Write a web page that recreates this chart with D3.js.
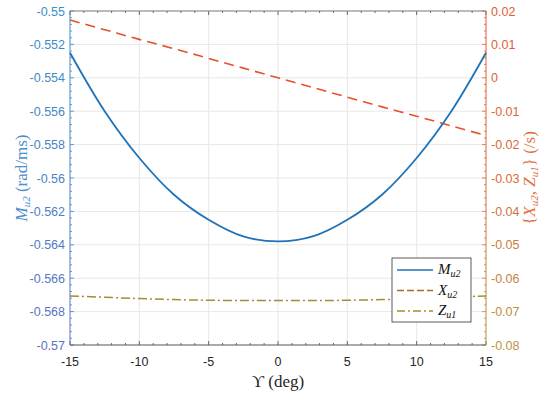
<!DOCTYPE html>
<html>
<head>
<meta charset="utf-8">
<script src="https://cdn.jsdelivr.net/npm/d3@7"></script>
<style>
  body { margin: 0; background: #fff; }
</style>
</head>
<body>
<div id="chart"></div>
<script>
// values
var angle = [-15, -12.5, -10, -7.5, -5, -2.5, 0, 2.5, 5, 7.5, 10, 12.5, 15]
var mu2 = [-0.5525, -0.5560, -0.5588, -0.5610, -0.5625, -0.5635, -0.5638,
           -0.5635, -0.5625, -0.5610, -0.5588, -0.5560, -0.5525]
var xu2 = [0.0173, 0.0144, 0.0115, 0.0087, 0.0058, 0.0029, 0,
           -0.0029, -0.0058, -0.0087, -0.0115, -0.0144, -0.0173]
var zu1 = [-0.0653, -0.0657, -0.0661, -0.0664, -0.0666, -0.0667, -0.0667,
           -0.0667, -0.0666, -0.0664, -0.0661, -0.0657, -0.0653]
var xTicks = [-15, -10, -5, 0, 5, 10, 15]
var leftTicks = [-0.57, -0.568, -0.566, -0.564, -0.562, -0.56, -0.558, -0.556, -0.554, -0.552, -0.55]
var rightTicks = [-0.08, -0.07, -0.06, -0.05, -0.04, -0.03, -0.02, -0.01, 0, 0.01, 0.02]

var SANS = "'Liberation Sans', Arial, sans-serif";
var SERIF = "'Liberation Serif', 'DejaVu Serif', serif";

var margin = { top: 11, right: 64, bottom: 48, left: 70 };
var W = 550, H = 393;
var width = W - margin.left - margin.right;
var height = H - margin.top - margin.bottom;

var svg = d3.select("#chart").append("svg")
  .attr("width", W).attr("height", H);
var g = svg.append("g")
  .attr("transform", "translate(" + margin.left + "," + margin.top + ")");

var x = d3.scaleLinear().domain([-15, 15]).range([0, width]);
var yL = d3.scaleLinear().domain([-0.57, -0.55]).range([height, 0]);
var yR = d3.scaleLinear().domain([-0.08, 0.02]).range([height, 0]);

// label colours drift from top to bottom in the picture
var leftCol = d3.scaleLinear().domain([0, height]).range(["#3a90c6", "#5c72c2"]);
var rightCol = d3.scaleLinear().domain([0, height * 0.45, height]).range(["#e45a34", "#d8683a", "#b5943c"]);

// grid
g.selectAll(".gx").data(xTicks.slice(1, -1)).enter().append("line")
  .attr("x1", d => x(d)).attr("x2", d => x(d))
  .attr("y1", 0).attr("y2", height)
  .attr("stroke", "#e8e8e8");
g.selectAll(".gy").data(leftTicks.slice(1, -1)).enter().append("line")
  .attr("x1", 0).attr("x2", width)
  .attr("y1", d => yL(d)).attr("y2", d => yL(d))
  .attr("stroke", "#e8e8e8");

// minor ticks
var xMinor = d3.range(-15, 15.01, 1);
var lMinor = d3.range(0, 51).map(i => -0.57 + i * 0.0004);
var rMinor = d3.range(0, 51).map(i => -0.08 + i * 0.002);

function xAxis(gg, y0, dir) {
  gg.selectAll(null).data(xMinor).enter().append("line")
    .attr("x1", d => x(d)).attr("x2", d => x(d))
    .attr("y1", y0).attr("y2", d => y0 + dir * (xTicks.indexOf(d) >= 0 ? 4 : 2))
    .attr("stroke", "#444").attr("stroke-width", 0.8);
}
xAxis(g, height, -1);
xAxis(g, 0, 1);

g.selectAll(".lm").data(lMinor).enter().append("line")
  .attr("x1", 0).attr("x2", (d, i) => i % 5 == 0 ? 4 : 2)
  .attr("y1", d => yL(d)).attr("y2", d => yL(d))
  .attr("stroke", d => leftCol(yL(d))).attr("stroke-width", 0.8);
g.selectAll(".rm").data(rMinor).enter().append("line")
  .attr("x1", width).attr("x2", (d, i) => width - (i % 5 == 0 ? 4 : 2))
  .attr("y1", d => yR(d)).attr("y2", d => yR(d))
  .attr("stroke", d => rightCol(yR(d))).attr("stroke-width", 0.8);

// axis lines
g.append("line").attr("x1", 0).attr("x2", width).attr("y1", height).attr("y2", height)
  .attr("stroke", "#555");
g.append("line").attr("x1", 0).attr("x2", width).attr("y1", 0).attr("y2", 0)
  .attr("stroke", "#777");
var defs = svg.append("defs");
var lg = defs.append("linearGradient").attr("id", "lgrad")
  .attr("x1", 0).attr("y1", 0).attr("x2", 0).attr("y2", 1);
lg.append("stop").attr("offset", "0%").attr("stop-color", "#3a90c6");
lg.append("stop").attr("offset", "100%").attr("stop-color", "#5c72c2");
var rg = defs.append("linearGradient").attr("id", "rgrad")
  .attr("x1", 0).attr("y1", 0).attr("x2", 0).attr("y2", 1);
rg.append("stop").attr("offset", "0%").attr("stop-color", "#e45a34");
rg.append("stop").attr("offset", "45%").attr("stop-color", "#d8683a");
rg.append("stop").attr("offset", "100%").attr("stop-color", "#b5943c");
g.append("rect").attr("x", -0.5).attr("y", 0).attr("width", 1).attr("height", height)
  .attr("fill", "url(#lgrad)");
g.append("rect").attr("x", width - 0.5).attr("y", 0).attr("width", 1).attr("height", height)
  .attr("fill", "url(#rgrad)");

// tick labels
g.selectAll(".xl").data(xTicks).enter().append("text")
  .attr("x", d => x(d)).attr("y", height + 21)
  .attr("text-anchor", "middle").attr("font-size", 12.5).attr("fill", "#262626")
  .style("font-family", SANS)
  .text(d => d);
g.selectAll(".ll").data(leftTicks).enter().append("text")
  .attr("x", -5).attr("y", d => yL(d) + 4.5)
  .attr("text-anchor", "end").attr("font-size", 12.5)
  .style("font-family", SANS)
  .attr("fill", d => leftCol(yL(d)))
  .text(d => +d.toFixed(3));
g.selectAll(".rl").data(rightTicks).enter().append("text")
  .attr("x", width + 5).attr("y", d => yR(d) + 4.5)
  .attr("text-anchor", "start").attr("font-size", 12.5)
  .style("font-family", SANS)
  .attr("fill", d => rightCol(yR(d)))
  .text(d => +d.toFixed(2));

// lines
var line = function (ys, sc) {
  return d3.line().x((d, i) => x(angle[i])).y(d => sc(d)).curve(d3.curveCatmullRom)(ys);
};
g.append("path").attr("d", line(zu1, yR)).attr("fill", "none")
  .attr("stroke", "#a58c30").attr("stroke-width", 1.5).attr("stroke-dasharray", "9,3,2,3");
g.append("path").attr("d", line(xu2, yR)).attr("fill", "none")
  .attr("stroke", "#e5512a").attr("stroke-width", 1.6).attr("stroke-dasharray", "10,6");
g.append("path").attr("d", line(mu2, yL)).attr("fill", "none")
  .attr("stroke", "#1f72b8").attr("stroke-width", 1.8);

// axis titles
svg.append("text")
  .attr("x", margin.left + width / 2).attr("y", H - 6)
  .attr("text-anchor", "middle").attr("font-size", 17).attr("fill", "#262626")
  .style("font-family", SERIF)
  .text("\u03D2 (deg)");

var lt = svg.append("text")
  .attr("transform", "translate(27," + (margin.top + height / 2) + ") rotate(-90)")
  .attr("text-anchor", "middle").attr("font-size", 17).attr("fill", "#4e8fcb")
  .style("font-family", SERIF);
lt.append("tspan").attr("font-style", "italic").text("M");
lt.append("tspan").attr("font-style", "italic").attr("font-size", 11).attr("dy", 3).text("u2");
lt.append("tspan").attr("dy", -3).text(" (rad/ms)");

var rt = svg.append("text")
  .attr("transform", "translate(535," + (margin.top + height / 2) + ") rotate(-90)")
  .attr("text-anchor", "middle").attr("font-size", 17).attr("fill", "#e0713e")
  .style("font-family", SERIF);
rt.append("tspan").text("{");
rt.append("tspan").attr("font-style", "italic").text("X");
rt.append("tspan").attr("font-style", "italic").attr("font-size", 11).attr("dy", 3).text("u2");
rt.append("tspan").attr("dy", -3).text(", ");
rt.append("tspan").attr("font-style", "italic").text("Z");
rt.append("tspan").attr("font-style", "italic").attr("font-size", 11).attr("dy", 3).text("u1");
rt.append("tspan").attr("dy", -3).text("} (/s)");

// legend
var legendNames = [["M", "u2"], ["X", "u2"], ["Z", "u1"]];
var legendStroke = ["#1f72b8", "#b06a22", "#a58c30"];
var legendDash = [null, "7,3", "8,3,2,3"];
var lx = 392, ly = 258;
var leg = svg.append("g").attr("transform", "translate(" + lx + "," + ly + ")");
leg.append("rect").attr("width", 79).attr("height", 64)
  .attr("fill", "#fff").attr("stroke", "#333").attr("stroke-width", 0.8);
legendNames.forEach(function (n, i) {
  var yy = 12 + i * 20.5;
  leg.append("line").attr("x1", 5).attr("x2", 41).attr("y1", yy).attr("y2", yy)
    .attr("stroke", legendStroke[i]).attr("stroke-width", 1.5)
    .attr("stroke-dasharray", legendDash[i]);
  var t = leg.append("text").attr("x", 46).attr("y", yy + 4)
    .attr("font-size", 15).attr("fill", "#111")
    .style("font-family", SERIF);
  t.append("tspan").attr("font-style", "italic").text(n[0]);
  t.append("tspan").attr("font-style", "italic").attr("font-size", 10).attr("dy", 3).text(n[1]);
});
</script>
</body>
</html>
